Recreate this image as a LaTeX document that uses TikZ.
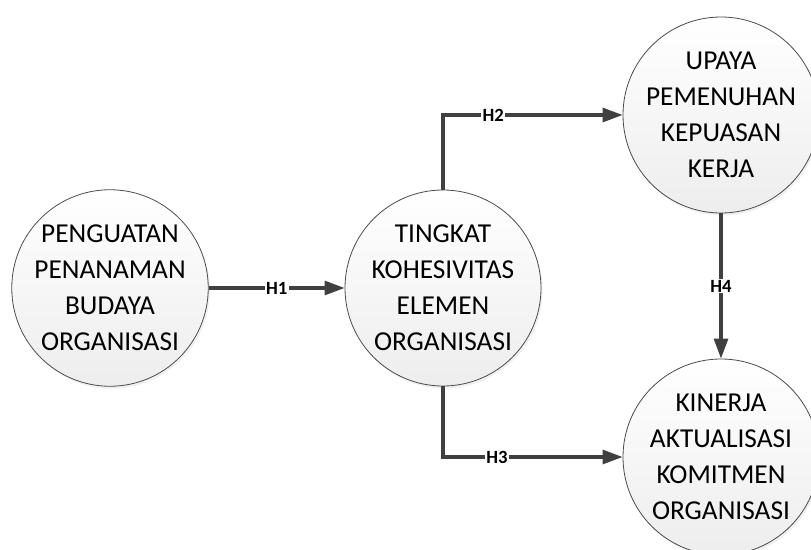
\documentclass[tikz,border=0pt]{standalone}
\usepackage{fontspec}
\setmainfont{Carlito}
\usetikzlibrary{arrows.meta,shadows}
\definecolor{linegray}{HTML}{404040}
\tikzset{
  bubble/.style={circle, draw=black!70, line width=0.6pt, minimum size=147pt, inner sep=0pt,
    top color=white, bottom color=black!7, align=center,
    font=\fontsize{20.5}{27}\selectfont,
    drop shadow={opacity=0.12, shadow xshift=1.2pt, shadow yshift=-1.8pt}},
  conn/.style={draw=linegray, line width=2.3pt, -{Triangle[length=15pt,width=10.5pt]}},
  hlabel/.style={fill=white, inner sep=1pt, font=\fontsize{14}{16}\selectfont\bfseries, text=black}
}
\begin{document}
\begin{tikzpicture}[x=0.75pt,y=-0.75pt]
\useasboundingbox (0,0) rectangle (811,550);
\node[bubble] (L) at (110,288) {PENGUATAN\\PENANAMAN\\BUDAYA\\ORGANISASI};
\node[bubble] (M) at (443,288) {TINGKAT\\KOHESIVITAS\\ELEMEN\\ORGANISASI};
\node[bubble] (TR) at (721,115) {UPAYA\\PEMENUHAN\\KEPUASAN\\KERJA};
\node[bubble] (BR) at (721,457) {KINERJA\\AKTUALISASI\\KOMITMEN\\ORGANISASI};
\draw[conn] (L.east) -- node[hlabel] (h1) {H1} (M.west);
\draw[conn] (M.north) |- node[hlabel, pos=0.64] (h2) {H2} (TR.west);
\draw[conn] (M.south) |- node[hlabel, pos=0.65] (h3) {H3} (BR.west);
\draw[conn] (TR.south) -- node[hlabel] (h4) {H4} (BR.north);
\end{tikzpicture}
\end{document}
